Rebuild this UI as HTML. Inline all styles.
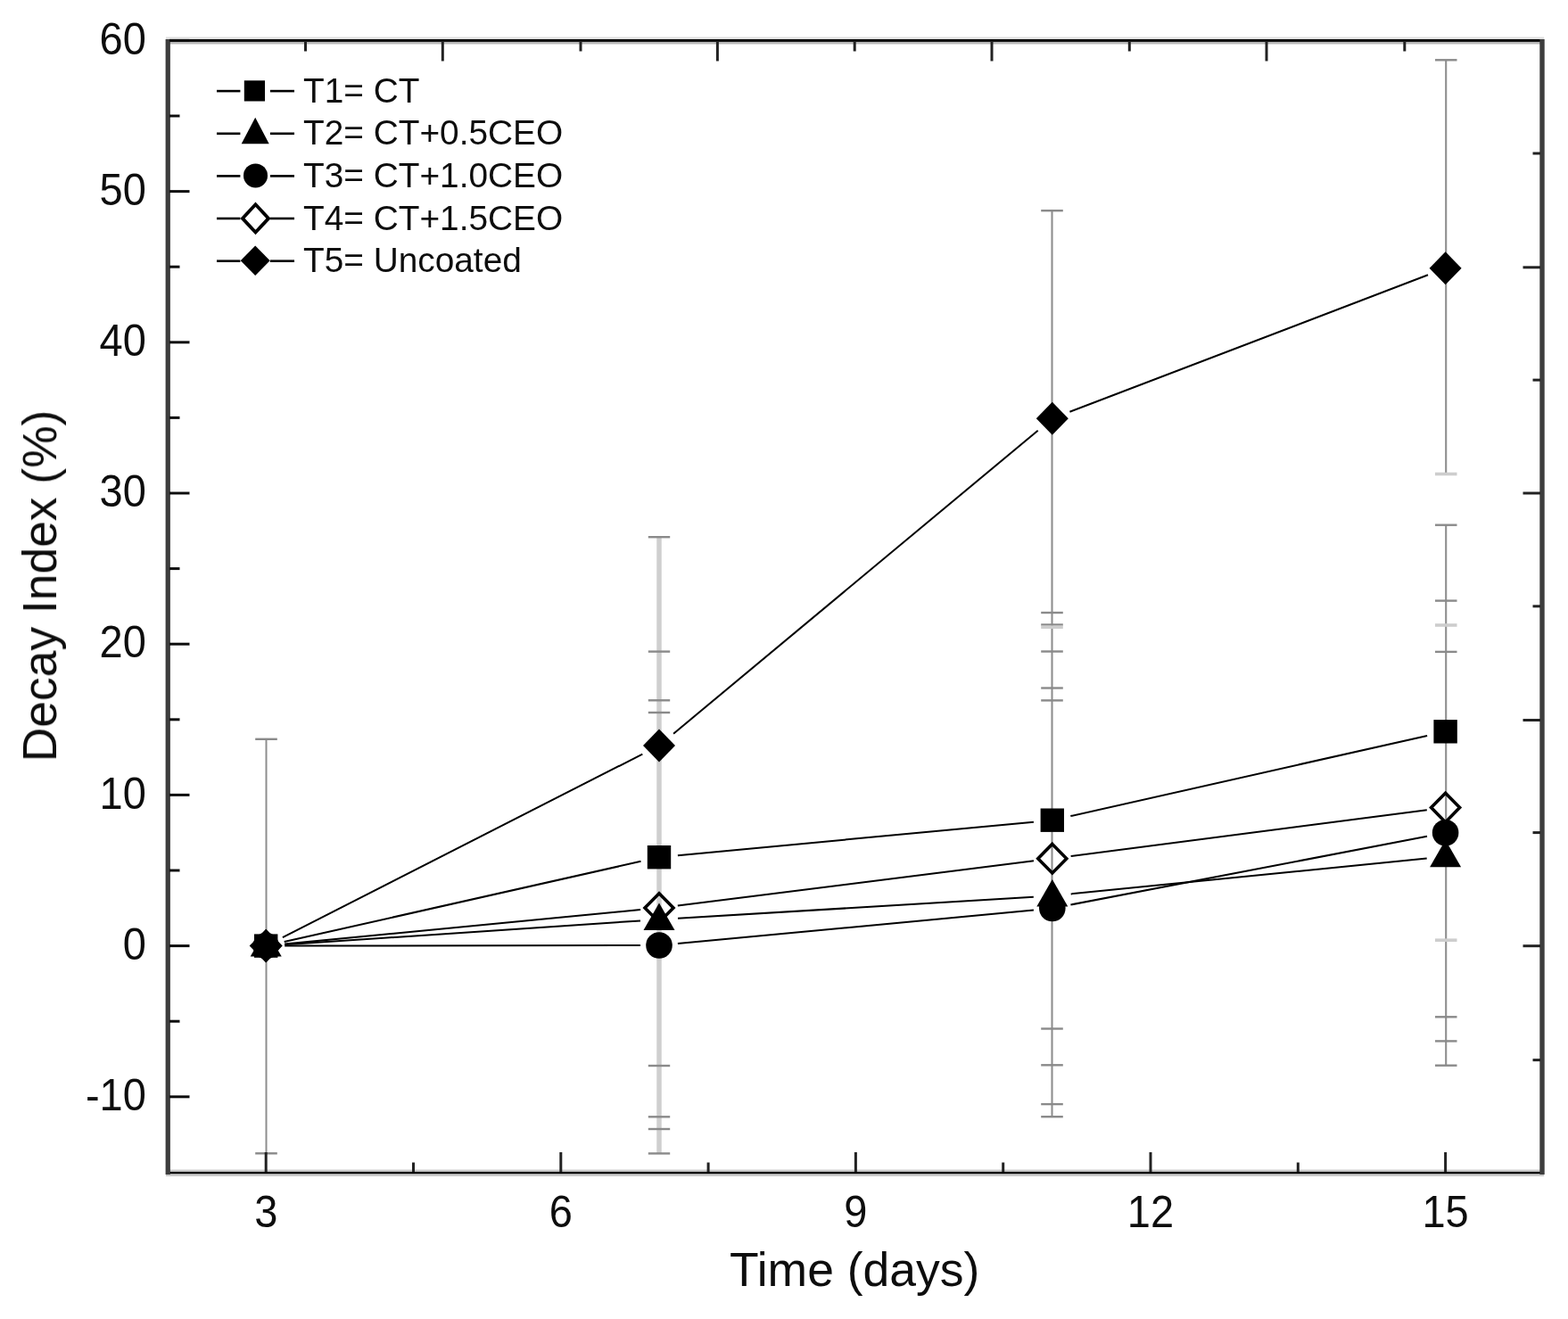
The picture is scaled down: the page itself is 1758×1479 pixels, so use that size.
<!DOCTYPE html><html><head><meta charset="utf-8"><title>Decay Index</title><style>html,body{margin:0;padding:0;background:#fff;}svg{display:block;}text{font-family:"Liberation Sans",Arial,sans-serif;fill:#111;}</style></head><body>
<svg width="1758" height="1479" viewBox="0 0 1758 1479">
<defs><filter id="soft" filterUnits="userSpaceOnUse" x="0" y="0" width="1758" height="1479"><feGaussianBlur stdDeviation="0.45"/></filter></defs>
<rect x="0" y="0" width="1758" height="1479" fill="#fff"/>
<g filter="url(#soft)">
<line x1="298.5" y1="828.8" x2="298.5" y2="1293.3" stroke="#8e8e8e" stroke-width="2.0"/>
<line x1="286.2" y1="828.8" x2="310.8" y2="828.8" stroke="#8a8a8a" stroke-width="2.4"/>
<line x1="286.2" y1="1293.3" x2="310.8" y2="1293.3" stroke="#8a8a8a" stroke-width="2.4"/>
<line x1="739.0" y1="602.2" x2="739.0" y2="1293.4" stroke="#cfcfcf" stroke-width="5.5"/>
<line x1="726.8" y1="602.2" x2="751.2" y2="602.2" stroke="#8a8a8a" stroke-width="2.4"/>
<line x1="726.8" y1="730.6" x2="751.2" y2="730.6" stroke="#8a8a8a" stroke-width="2.4"/>
<line x1="726.8" y1="785.3" x2="751.2" y2="785.3" stroke="#8a8a8a" stroke-width="2.4"/>
<line x1="726.8" y1="799.0" x2="751.2" y2="799.0" stroke="#8a8a8a" stroke-width="2.4"/>
<line x1="726.8" y1="1195.0" x2="751.2" y2="1195.0" stroke="#8a8a8a" stroke-width="2.4"/>
<line x1="726.8" y1="1252.3" x2="751.2" y2="1252.3" stroke="#8a8a8a" stroke-width="2.4"/>
<line x1="726.8" y1="1266.0" x2="751.2" y2="1266.0" stroke="#8a8a8a" stroke-width="2.4"/>
<line x1="726.8" y1="1293.4" x2="751.2" y2="1293.4" stroke="#8a8a8a" stroke-width="2.4"/>
<line x1="1179.5" y1="236.2" x2="1179.5" y2="1252.2" stroke="#8e8e8e" stroke-width="2.1"/>
<line x1="1167.2" y1="236.2" x2="1191.8" y2="236.2" stroke="#8a8a8a" stroke-width="2.4"/>
<line x1="1167.2" y1="687.0" x2="1191.8" y2="687.0" stroke="#8a8a8a" stroke-width="2.4"/>
<line x1="1167.2" y1="700.5" x2="1191.8" y2="700.5" stroke="#8a8a8a" stroke-width="2.4"/>
<line x1="1167.2" y1="730.5" x2="1191.8" y2="730.5" stroke="#8a8a8a" stroke-width="2.4"/>
<line x1="1167.2" y1="771.5" x2="1191.8" y2="771.5" stroke="#8a8a8a" stroke-width="2.4"/>
<line x1="1167.2" y1="785.4" x2="1191.8" y2="785.4" stroke="#8a8a8a" stroke-width="2.4"/>
<line x1="1167.2" y1="1153.5" x2="1191.8" y2="1153.5" stroke="#8a8a8a" stroke-width="2.4"/>
<line x1="1167.2" y1="1194.3" x2="1191.8" y2="1194.3" stroke="#8a8a8a" stroke-width="2.4"/>
<line x1="1167.2" y1="1238.1" x2="1191.8" y2="1238.1" stroke="#8a8a8a" stroke-width="2.4"/>
<line x1="1167.2" y1="1252.2" x2="1191.8" y2="1252.2" stroke="#8a8a8a" stroke-width="2.4"/>
<line x1="1167.2" y1="703.2" x2="1191.8" y2="703.2" stroke="#cdcdcd" stroke-width="3.6"/>
<line x1="1621.2" y1="67.3" x2="1621.2" y2="531.5" stroke="#8e8e8e" stroke-width="2.1"/>
<line x1="1621.2" y1="588.7" x2="1621.2" y2="1194.7" stroke="#8e8e8e" stroke-width="2.1"/>
<line x1="1609.0" y1="67.3" x2="1633.5" y2="67.3" stroke="#8a8a8a" stroke-width="2.4"/>
<line x1="1609.0" y1="588.7" x2="1633.5" y2="588.7" stroke="#8a8a8a" stroke-width="2.4"/>
<line x1="1609.0" y1="673.6" x2="1633.5" y2="673.6" stroke="#8a8a8a" stroke-width="2.4"/>
<line x1="1609.0" y1="730.9" x2="1633.5" y2="730.9" stroke="#8a8a8a" stroke-width="2.4"/>
<line x1="1609.0" y1="1140.3" x2="1633.5" y2="1140.3" stroke="#8a8a8a" stroke-width="2.4"/>
<line x1="1609.0" y1="1167.4" x2="1633.5" y2="1167.4" stroke="#8a8a8a" stroke-width="2.4"/>
<line x1="1609.0" y1="1194.7" x2="1633.5" y2="1194.7" stroke="#8a8a8a" stroke-width="2.4"/>
<line x1="1609.0" y1="531.5" x2="1633.5" y2="531.5" stroke="#cdcdcd" stroke-width="3.6"/>
<line x1="1609.0" y1="701.0" x2="1633.5" y2="701.0" stroke="#cdcdcd" stroke-width="3.6"/>
<line x1="1609.0" y1="1054.2" x2="1633.5" y2="1054.2" stroke="#cdcdcd" stroke-width="3.6"/>
<line x1="316.9" y1="1051.1" x2="720.3" y2="845.6" stroke="#000" stroke-width="2.0"/>
<line x1="755.1" y1="822.7" x2="1163.7" y2="482.7" stroke="#000" stroke-width="2.0"/>
<line x1="1199.4" y1="461.8" x2="1601.0" y2="308.3" stroke="#000" stroke-width="2.0"/>
<line x1="318.7" y1="1056.0" x2="718.5" y2="965.8" stroke="#000" stroke-width="2.0"/>
<line x1="759.9" y1="959.2" x2="1158.9" y2="921.7" stroke="#000" stroke-width="2.0"/>
<line x1="1200.3" y1="915.1" x2="1600.1" y2="824.9" stroke="#000" stroke-width="2.0"/>
<line x1="319.1" y1="1058.6" x2="718.1" y2="1020.0" stroke="#000" stroke-width="2.0"/>
<line x1="759.8" y1="1015.4" x2="1159.0" y2="965.3" stroke="#000" stroke-width="2.0"/>
<line x1="1200.6" y1="960.0" x2="1599.8" y2="908.3" stroke="#000" stroke-width="2.0"/>
<line x1="319.2" y1="1059.2" x2="718.0" y2="1032.4" stroke="#000" stroke-width="2.0"/>
<line x1="760.0" y1="1029.7" x2="1158.8" y2="1005.8" stroke="#000" stroke-width="2.0"/>
<line x1="1200.7" y1="1002.4" x2="1599.7" y2="962.4" stroke="#000" stroke-width="2.0"/>
<line x1="319.2" y1="1060.6" x2="718.0" y2="1060.0" stroke="#000" stroke-width="2.0"/>
<line x1="759.9" y1="1058.0" x2="1158.9" y2="1020.5" stroke="#000" stroke-width="2.0"/>
<line x1="1200.4" y1="1014.5" x2="1600.0" y2="937.8" stroke="#000" stroke-width="2.0"/>
<path d="M298.2 1042.1L316.2 1060.6L298.2 1079.1L280.2 1060.6Z" fill="#000"/>
<path d="M298.2 1044.3L314.2 1060.6L298.2 1076.9L282.2 1060.6Z" fill="none" stroke="#000" stroke-width="3.6" stroke-linejoin="miter"/>
<circle cx="298.2" cy="1060.6" r="14.8" fill="#000"/>
<path d="M298.2 1042.1L315.7 1072.6L280.7 1072.6Z" fill="#000"/>
<rect x="285.0" y="1047.4" width="26.4" height="26.4" fill="#000"/>
<path d="M739.0 817.6L757.0 836.1L739.0 854.6L721.0 836.1Z" fill="#000"/>
<path d="M739.0 1001.7L755.0 1018.0L739.0 1034.3L723.0 1018.0Z" fill="none" stroke="#000" stroke-width="3.6" stroke-linejoin="miter"/>
<circle cx="739.0" cy="1060.0" r="14.8" fill="#000"/>
<path d="M739.0 1012.5L756.5 1043.0L721.5 1043.0Z" fill="#000"/>
<rect x="725.8" y="948.0" width="26.4" height="26.4" fill="#000"/>
<path d="M1179.8 450.8L1197.8 469.3L1179.8 487.8L1161.8 469.3Z" fill="#000"/>
<path d="M1179.8 946.4L1195.8 962.7L1179.8 979.0L1163.8 962.7Z" fill="none" stroke="#000" stroke-width="3.6" stroke-linejoin="miter"/>
<circle cx="1179.8" cy="1018.5" r="14.8" fill="#000"/>
<path d="M1179.8 986.0L1197.3 1016.5L1162.3 1016.5Z" fill="#000"/>
<rect x="1166.6" y="906.5" width="26.4" height="26.4" fill="#000"/>
<path d="M1620.6 282.3L1638.6 300.8L1620.6 319.3L1602.6 300.8Z" fill="#000"/>
<path d="M1620.6 889.3L1636.6 905.6L1620.6 921.9L1604.6 905.6Z" fill="none" stroke="#000" stroke-width="3.6" stroke-linejoin="miter"/>
<circle cx="1620.6" cy="933.8" r="14.8" fill="#000"/>
<path d="M1620.6 941.8L1638.1 972.3L1603.1 972.3Z" fill="#000"/>
<rect x="1607.4" y="807.1" width="26.4" height="26.4" fill="#000"/>
<rect x="186" y="41.5" width="1545" height="3" fill="#e0e0e0"/>
<rect x="186" y="46.5" width="1545" height="3" fill="#b8b8b8"/>
<rect x="186" y="1311.5" width="1545" height="7.5" fill="#cbcbcb"/>
<rect x="186" y="44" width="1545" height="2.9" fill="#000"/>
<rect x="186" y="1313.9" width="1545" height="2.3" fill="#000"/>
<rect x="185.6" y="44" width="5.3" height="1273" fill="#3d3d3d"/>
<rect x="1726.3" y="44" width="5.4" height="1273" fill="#3d3d3d"/>
<line x1="298.2" y1="1314" x2="298.2" y2="1292" stroke="#222" stroke-width="3"/>
<line x1="628.8" y1="1314" x2="628.8" y2="1292" stroke="#222" stroke-width="3"/>
<line x1="959.4" y1="1314" x2="959.4" y2="1292" stroke="#222" stroke-width="3"/>
<line x1="1290.0" y1="1314" x2="1290.0" y2="1292" stroke="#222" stroke-width="3"/>
<line x1="1620.6" y1="1314" x2="1620.6" y2="1292" stroke="#222" stroke-width="3"/>
<line x1="463.5" y1="1314" x2="463.5" y2="1303.5" stroke="#222" stroke-width="3"/>
<line x1="794.1" y1="1314" x2="794.1" y2="1303.5" stroke="#222" stroke-width="3"/>
<line x1="1124.7" y1="1314" x2="1124.7" y2="1303.5" stroke="#222" stroke-width="3"/>
<line x1="1455.3" y1="1314" x2="1455.3" y2="1303.5" stroke="#222" stroke-width="3"/>
<line x1="190" y1="1229.8" x2="212.5" y2="1229.8" stroke="#111" stroke-width="3"/>
<line x1="190" y1="1060.6" x2="212.5" y2="1060.6" stroke="#111" stroke-width="3"/>
<line x1="190" y1="891.4" x2="212.5" y2="891.4" stroke="#111" stroke-width="3"/>
<line x1="190" y1="722.2" x2="212.5" y2="722.2" stroke="#111" stroke-width="3"/>
<line x1="190" y1="553.0" x2="212.5" y2="553.0" stroke="#111" stroke-width="3"/>
<line x1="190" y1="383.8" x2="212.5" y2="383.8" stroke="#111" stroke-width="3"/>
<line x1="190" y1="214.6" x2="212.5" y2="214.6" stroke="#111" stroke-width="3"/>
<line x1="190" y1="45.4" x2="212.5" y2="45.4" stroke="#111" stroke-width="3"/>
<line x1="190" y1="1145.2" x2="201.5" y2="1145.2" stroke="#111" stroke-width="3"/>
<line x1="190" y1="976.0" x2="201.5" y2="976.0" stroke="#111" stroke-width="3"/>
<line x1="190" y1="806.8" x2="201.5" y2="806.8" stroke="#111" stroke-width="3"/>
<line x1="190" y1="637.6" x2="201.5" y2="637.6" stroke="#111" stroke-width="3"/>
<line x1="190" y1="468.4" x2="201.5" y2="468.4" stroke="#111" stroke-width="3"/>
<line x1="190" y1="299.2" x2="201.5" y2="299.2" stroke="#111" stroke-width="3"/>
<line x1="190" y1="130.0" x2="201.5" y2="130.0" stroke="#111" stroke-width="3"/>
<line x1="496.3" y1="46" x2="496.3" y2="68.5" stroke="#222" stroke-width="3"/>
<line x1="804.4" y1="46" x2="804.4" y2="68.5" stroke="#222" stroke-width="3"/>
<line x1="1112" y1="46" x2="1112" y2="68.5" stroke="#222" stroke-width="3"/>
<line x1="1420" y1="46" x2="1420" y2="68.5" stroke="#222" stroke-width="3"/>
<line x1="342.5" y1="46" x2="342.5" y2="57.5" stroke="#222" stroke-width="3"/>
<line x1="651" y1="46" x2="651" y2="57.5" stroke="#222" stroke-width="3"/>
<line x1="958.2" y1="46" x2="958.2" y2="57.5" stroke="#222" stroke-width="3"/>
<line x1="1266.3" y1="46" x2="1266.3" y2="57.5" stroke="#222" stroke-width="3"/>
<line x1="1574.8" y1="46" x2="1574.8" y2="57.5" stroke="#222" stroke-width="3"/>
<line x1="1727" y1="299.8" x2="1707.5" y2="299.8" stroke="#222" stroke-width="3"/>
<line x1="1727" y1="553" x2="1707.5" y2="553" stroke="#222" stroke-width="3"/>
<line x1="1727" y1="807.5" x2="1707.5" y2="807.5" stroke="#222" stroke-width="3"/>
<line x1="1727" y1="1060.7" x2="1707.5" y2="1060.7" stroke="#222" stroke-width="3"/>
<line x1="1727" y1="172" x2="1718.5" y2="172" stroke="#222" stroke-width="3"/>
<line x1="1727" y1="426.1" x2="1718.5" y2="426.1" stroke="#222" stroke-width="3"/>
<line x1="1727" y1="679.8" x2="1718.5" y2="679.8" stroke="#222" stroke-width="3"/>
<line x1="1727" y1="933.6" x2="1718.5" y2="933.6" stroke="#222" stroke-width="3"/>
<line x1="1727" y1="1188.6" x2="1718.5" y2="1188.6" stroke="#222" stroke-width="3"/>
<text transform="translate(163.8 1244.9) scale(1 1.05)" font-size="47" text-anchor="end">-10</text>
<text transform="translate(163.8 1075.7) scale(1 1.05)" font-size="47" text-anchor="end">0</text>
<text transform="translate(163.8 906.5) scale(1 1.05)" font-size="47" text-anchor="end">10</text>
<text transform="translate(163.8 737.3) scale(1 1.05)" font-size="47" text-anchor="end">20</text>
<text transform="translate(163.8 568.1) scale(1 1.05)" font-size="47" text-anchor="end">30</text>
<text transform="translate(163.8 398.9) scale(1 1.05)" font-size="47" text-anchor="end">40</text>
<text transform="translate(163.8 229.7) scale(1 1.05)" font-size="47" text-anchor="end">50</text>
<text transform="translate(163.8 60.5) scale(1 1.05)" font-size="47" text-anchor="end">60</text>
<text transform="translate(298.2 1375.8) scale(1 1.055)" font-size="47" text-anchor="middle">3</text>
<text transform="translate(628.8 1375.8) scale(1 1.055)" font-size="47" text-anchor="middle">6</text>
<text transform="translate(959.4 1375.8) scale(1 1.055)" font-size="47" text-anchor="middle">9</text>
<text transform="translate(1290.0 1375.8) scale(1 1.055)" font-size="47" text-anchor="middle">12</text>
<text transform="translate(1620.6 1375.8) scale(1 1.055)" font-size="47" text-anchor="middle">15</text>
<text x="818" y="1442" font-size="53.5">Time (days)</text>
<text transform="translate(63.0 854.3) rotate(-90)" x="0" y="0" font-size="53.4">Decay Index (%)</text>
<line x1="243" y1="102.1" x2="269.4" y2="102.1" stroke="#000" stroke-width="2.6"/>
<line x1="302.9" y1="102.1" x2="330" y2="102.1" stroke="#000" stroke-width="2.6"/>
<text x="340" y="114.6" font-size="38.8">T1= CT</text>
<line x1="243" y1="149.8" x2="269.4" y2="149.8" stroke="#000" stroke-width="2.6"/>
<line x1="302.9" y1="149.8" x2="330" y2="149.8" stroke="#000" stroke-width="2.6"/>
<text x="340" y="162.2" font-size="38.8">T2= CT+0.5CEO</text>
<line x1="243" y1="197.4" x2="269.4" y2="197.4" stroke="#000" stroke-width="2.6"/>
<line x1="302.9" y1="197.4" x2="330" y2="197.4" stroke="#000" stroke-width="2.6"/>
<text x="340" y="209.9" font-size="38.8">T3= CT+1.0CEO</text>
<line x1="243" y1="245.0" x2="269.4" y2="245.0" stroke="#000" stroke-width="2.6"/>
<line x1="302.9" y1="245.0" x2="330" y2="245.0" stroke="#000" stroke-width="2.6"/>
<text x="340" y="257.5" font-size="38.8">T4= CT+1.5CEO</text>
<line x1="243" y1="292.7" x2="269.4" y2="292.7" stroke="#000" stroke-width="2.6"/>
<line x1="302.9" y1="292.7" x2="330" y2="292.7" stroke="#000" stroke-width="2.6"/>
<text x="340" y="305.2" font-size="38.8">T5= Uncoated</text>
<rect x="273.8" y="90.3" width="23.2" height="23.2" fill="#000"/>
<path d="M286.2 131.8L301.7 161.2L270.7 161.2Z" fill="#000"/>
<circle cx="286.5" cy="196.9" r="13.5" fill="#000"/>
<path d="M286.5 229.3L301.1 244.9L286.5 260.5L271.9 244.9Z" fill="none" stroke="#000" stroke-width="3.8" stroke-linejoin="miter"/>
<path d="M286.2 275.4L302.7 292.2L286.2 309.0L269.7 292.2Z" fill="#000"/>
</g>
</svg></body></html>
